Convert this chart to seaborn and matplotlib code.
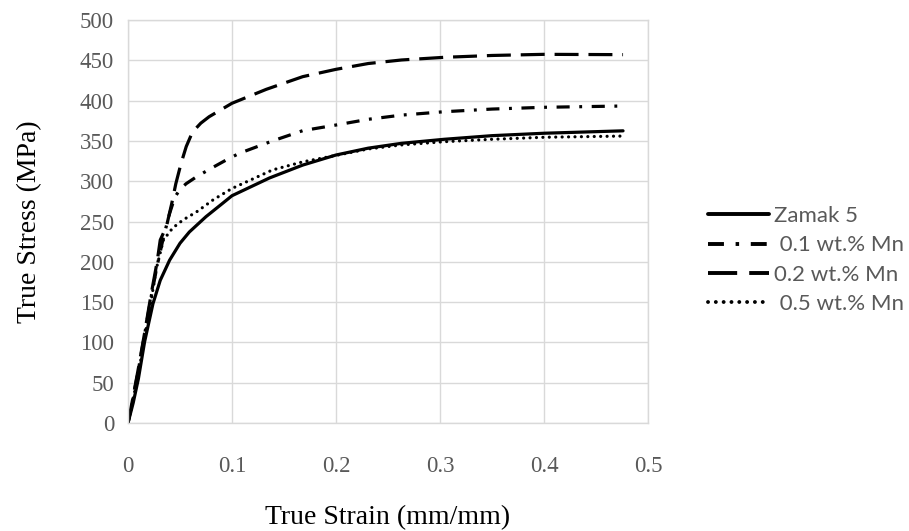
import matplotlib
matplotlib.use("Agg")
import matplotlib.pyplot as plt
import seaborn as sns
import pandas as pd

# True stress-strain curves of Zamak 5 with Mn additions
strain_zamak = [0, 0.005, 0.010, 0.016, 0.024, 0.031, 0.040, 0.050, 0.059, 0.075,
                0.091, 0.100, 0.136, 0.168, 0.200, 0.231, 0.263, 0.304, 0.350, 0.400,
                0.476]
stress_zamak = [0, 25, 55, 101, 148, 177, 202, 223, 237, 256,
                272.6, 282, 304, 320, 332.5, 341, 347, 352, 356.5, 359.5,
                362.5]

strain_mn01 = [0, 0.005, 0.010, 0.016, 0.022, 0.028, 0.034, 0.040, 0.045, 0.050,
               0.056, 0.066, 0.080, 0.094, 0.107, 0.139, 0.168, 0.200, 0.231, 0.263,
               0.304, 0.350, 0.400, 0.476]
stress_mn01 = [0, 32, 66, 110, 155, 195, 230, 260, 280, 290,
               297, 305.6, 316, 326, 334.6, 350, 362.7, 369.7, 376.8, 382,
               386.2, 389.5, 391.7, 393.3]

strain_mn02 = [0, 0.005, 0.010, 0.016, 0.022, 0.028, 0.031, 0.037, 0.042, 0.046,
               0.051, 0.056, 0.062, 0.070, 0.078, 0.100, 0.133, 0.168, 0.200, 0.231,
               0.263, 0.304, 0.350, 0.400, 0.476]
stress_mn02 = [0, 33, 68, 112, 158, 200, 227, 244, 272, 297,
               322, 343, 361, 372, 380, 396.7, 414, 429.7, 438.8, 446,
               450.4, 453.7, 456, 457.4, 457]

strain_mn05 = [0, 0.005, 0.010, 0.016, 0.022, 0.027, 0.034, 0.043, 0.053, 0.066,
               0.082, 0.100, 0.139, 0.168, 0.200, 0.231, 0.263, 0.304, 0.350, 0.400,
               0.476]
stress_mn05 = [0, 30, 62, 105, 150, 190, 227, 242, 252, 262,
               277, 291, 314, 324, 332, 340, 345, 349, 352, 354.5,
               356]

labels = ["Zamak 5", " 0.1 wt.% Mn", "0.2 wt.% Mn", " 0.5 wt.% Mn"]
x_ticks = [0, 0.1, 0.2, 0.3, 0.4, 0.5]
x_tick_labels = ["0", "0.1", "0.2", "0.3", "0.4", "0.5"]
y_ticks = [0, 50, 100, 150, 200, 250, 300, 350, 400, 450, 500]

sns.set_theme(style="whitegrid")
serif = ["Liberation Serif", "DejaVu Serif"]

fig = plt.figure(figsize=(9.09, 5.31), dpi=100)
ax = fig.add_axes([128 / 909, 1 - 423 / 531, 520 / 909, 403 / 531])

series = [
    (strain_zamak, stress_zamak, dict(linestyle="-")),
    (strain_mn01, stress_mn01, dict(linestyle=(0, (4.1, 3.0, 0.9, 3.0)))),
    (strain_mn02, stress_mn02, dict(linestyle=(0, (7.5, 3.1)))),
    (strain_mn05, stress_mn05, dict(linestyle=(0, (0.01, 2.0)), dash_capstyle="round")),
]
for (sx, sy, style), lab in zip(series, labels):
    df = pd.DataFrame({"strain": sx, "stress": sy})
    sns.lineplot(data=df, x="strain", y="stress", ax=ax, color="black",
                 linewidth=2.3, estimator=None, sort=False, label=lab, **style)

ax.set_xlim(0, 0.5)
ax.set_ylim(0, 500)
ax.set_xticks(x_ticks)
ax.set_xticklabels(x_tick_labels)
ax.set_yticks(y_ticks)
ax.set_facecolor("white")
ax.grid(True, color="#d9d9d9", linewidth=1.0)
for side in ["left", "bottom", "right", "top"]:
    ax.spines[side].set_visible(True)
    ax.spines[side].set_color("#d9d9d9")
    ax.spines[side].set_linewidth(1.0)
ax.tick_params(axis="both", length=0, labelcolor="#595959", labelsize=16.5)
ax.tick_params(axis="x", pad=24)
ax.tick_params(axis="y", pad=10)
for t in ax.get_xticklabels() + ax.get_yticklabels():
    t.set_fontfamily(serif)

ax.set_xlabel("True Strain (mm/mm)", fontsize=20, family=serif, color="black", labelpad=20)
ax.set_ylabel("True Stress (MPa)", fontsize=20, family=serif, color="black", labelpad=27)

handles, labs = ax.get_legend_handles_labels()
ax.legend_.remove()
leg = fig.legend(handles, labs, loc="center left", bbox_to_anchor=(688 / 909, 1 - 260 / 531),
                 frameon=False, handlelength=2.75, handletextpad=0.2, labelspacing=0.42,
                 prop={"family": ["Lato", "DejaVu Sans"], "size": 16})
for t in leg.get_texts():
    t.set_color("#595959")
for h in leg.legend_handles:
    h.set_linewidth(2.8)

fig.savefig("out.png", dpi=100)
